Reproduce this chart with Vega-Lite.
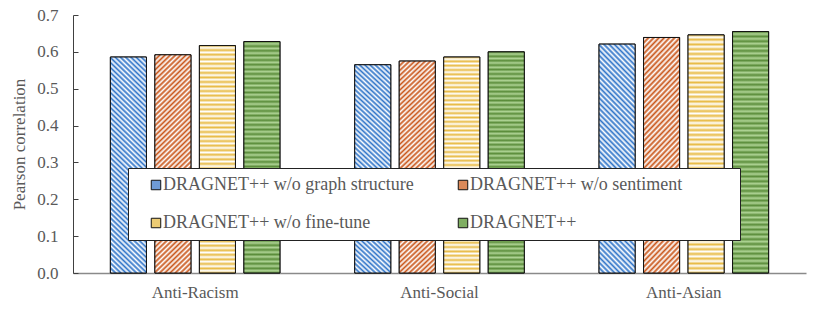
{
  "$schema": "https://vega.github.io/schema/vega-lite/v6.json",
  "width": 733,
  "height": 258,
  "autosize": {"type": "none"},
  "padding": {"left": 73, "top": 15, "right": 24, "bottom": 42},
  "background": "white",
  "config": {"view": {"stroke": null}, "font": "Liberation Serif"},
  "data": {
    "values": [
      {"dataset": "Anti-Racism", "model": "DRAGNET++ w/o graph structure", "value": 0.586},
      {"dataset": "Anti-Racism", "model": "DRAGNET++ w/o sentiment", "value": 0.592},
      {"dataset": "Anti-Racism", "model": "DRAGNET++ w/o fine-tune", "value": 0.617},
      {"dataset": "Anti-Racism", "model": "DRAGNET++", "value": 0.628},
      {"dataset": "Anti-Social", "model": "DRAGNET++ w/o graph structure", "value": 0.565},
      {"dataset": "Anti-Social", "model": "DRAGNET++ w/o sentiment", "value": 0.575},
      {"dataset": "Anti-Social", "model": "DRAGNET++ w/o fine-tune", "value": 0.586},
      {"dataset": "Anti-Social", "model": "DRAGNET++", "value": 0.600},
      {"dataset": "Anti-Asian", "model": "DRAGNET++ w/o graph structure", "value": 0.621},
      {"dataset": "Anti-Asian", "model": "DRAGNET++ w/o sentiment", "value": 0.639},
      {"dataset": "Anti-Asian", "model": "DRAGNET++ w/o fine-tune", "value": 0.646},
      {"dataset": "Anti-Asian", "model": "DRAGNET++", "value": 0.655}
    ]
  },
  "encoding": {
    "x": {
      "field": "dataset",
      "type": "nominal",
      "sort": ["Anti-Racism", "Anti-Social", "Anti-Asian"],
      "scale": {"paddingInner": 0, "paddingOuter": 0},
      "axis": {
        "title": null,
        "labelAngle": 0,
        "labelFont": "Liberation Serif",
        "labelFontSize": 17,
        "labelColor": "#595959",
        "ticks": false,
        "labelPadding": 11,
        "domainColor": "#8a8a8a",
        "domainWidth": 1.5
      }
    },
    "xOffset": {
      "field": "model",
      "type": "nominal",
      "scale": {
        "domain": ["DRAGNET++ w/o graph structure", "DRAGNET++ w/o sentiment", "DRAGNET++ w/o fine-tune", "DRAGNET++"],
        "paddingInner": 0.19,
        "paddingOuter": 0.84
      }
    },
    "y": {
      "field": "value",
      "type": "quantitative",
      "scale": {"domain": [0, 0.7], "nice": false},
      "axis": {
        "title": "Pearson correlation",
        "values": [0, 0.1, 0.2, 0.3, 0.4, 0.5, 0.6, 0.7],
        "format": ".1f",
        "grid": false,
        "labelFont": "Liberation Serif",
        "labelFontSize": 17,
        "labelColor": "#595959",
        "tickSize": -5,
        "tickColor": "#404040",
        "domainColor": "#404040",
        "labelPadding": 20,
        "titleFont": "Liberation Serif",
        "titleFontSize": 17,
        "titleFontWeight": "normal",
        "titleColor": "#595959",
        "titlePadding": 8
      }
    }
  },
  "layer": [
    {
      "mark": {"type": "bar", "stroke": "#111111", "strokeWidth": 1},
      "encoding": {
        "fill": {
          "field": "model",
          "type": "nominal",
          "scale": {
            "domain": ["DRAGNET++ w/o graph structure", "DRAGNET++ w/o sentiment", "DRAGNET++ w/o fine-tune", "DRAGNET++"],
            "range": ["#6f9bd6", "#dc8a5a", "#eccb73", "#7fae62"]
          },
          "legend": {
            "title": " ",
            "titleOrient": "right",
            "titleFontSize": 2,
            "titlePadding": 50,
            "orient": "none",
            "legendX": 55,
            "legendY": 153,
            "direction": "horizontal",
            "columns": 2,
            "gridAlign": "all",
            "fillColor": "#ffffff",
            "strokeColor": "#222222",
            "padding": 8,
            "symbolType": "square",
            "symbolSize": 90,
            "symbolStrokeColor": "#111111",
            "symbolStrokeWidth": 1,
            "symbolOpacity": 1,
            "symbolOffset": 11,
            "labelOffset": -2,
            "labelFont": "Liberation Serif",
            "labelFontSize": 18,
            "labelColor": "#595959",
            "labelLimit": 400,
            "rowPadding": 20,
            "columnPadding": 29
          }
        }
      }
    },
    {
      "transform": [{"filter": "datum.model == 'DRAGNET++ w/o graph structure'"}],
      "mark": {"type": "bar", "stroke": "#111111", "strokeWidth": 1, "fill": {"gradient": "linear", "x1": 0, "y1": 1, "x2": 0.181, "y2": -0.131, "stops": [
            {"offset":0,"color":"#2f74c8"},{"offset":0.01,"color":"#ffffff"},{"offset":0.02,"color":"#2f74c8"},{"offset":0.03,"color":"#ffffff"},{"offset":0.04,"color":"#2f74c8"},{"offset":0.05,"color":"#ffffff"},{"offset":0.06,"color":"#2f74c8"},{"offset":0.07,"color":"#ffffff"},{"offset":0.08,"color":"#2f74c8"},{"offset":0.09,"color":"#ffffff"},
            {"offset":0.1,"color":"#2f74c8"},{"offset":0.11,"color":"#ffffff"},{"offset":0.12,"color":"#2f74c8"},{"offset":0.13,"color":"#ffffff"},{"offset":0.14,"color":"#2f74c8"},{"offset":0.15,"color":"#ffffff"},{"offset":0.16,"color":"#2f74c8"},{"offset":0.17,"color":"#ffffff"},{"offset":0.18,"color":"#2f74c8"},{"offset":0.19,"color":"#ffffff"},
            {"offset":0.2,"color":"#2f74c8"},{"offset":0.21,"color":"#ffffff"},{"offset":0.22,"color":"#2f74c8"},{"offset":0.23,"color":"#ffffff"},{"offset":0.24,"color":"#2f74c8"},{"offset":0.25,"color":"#ffffff"},{"offset":0.26,"color":"#2f74c8"},{"offset":0.27,"color":"#ffffff"},{"offset":0.28,"color":"#2f74c8"},{"offset":0.29,"color":"#ffffff"},
            {"offset":0.3,"color":"#2f74c8"},{"offset":0.31,"color":"#ffffff"},{"offset":0.32,"color":"#2f74c8"},{"offset":0.33,"color":"#ffffff"},{"offset":0.34,"color":"#2f74c8"},{"offset":0.35,"color":"#ffffff"},{"offset":0.36,"color":"#2f74c8"},{"offset":0.37,"color":"#ffffff"},{"offset":0.38,"color":"#2f74c8"},{"offset":0.39,"color":"#ffffff"},
            {"offset":0.4,"color":"#2f74c8"},{"offset":0.41,"color":"#ffffff"},{"offset":0.42,"color":"#2f74c8"},{"offset":0.43,"color":"#ffffff"},{"offset":0.44,"color":"#2f74c8"},{"offset":0.45,"color":"#ffffff"},{"offset":0.46,"color":"#2f74c8"},{"offset":0.47,"color":"#ffffff"},{"offset":0.48,"color":"#2f74c8"},{"offset":0.49,"color":"#ffffff"},
            {"offset":0.5,"color":"#2f74c8"},{"offset":0.51,"color":"#ffffff"},{"offset":0.52,"color":"#2f74c8"},{"offset":0.53,"color":"#ffffff"},{"offset":0.54,"color":"#2f74c8"},{"offset":0.55,"color":"#ffffff"},{"offset":0.56,"color":"#2f74c8"},{"offset":0.57,"color":"#ffffff"},{"offset":0.58,"color":"#2f74c8"},{"offset":0.59,"color":"#ffffff"},
            {"offset":0.6,"color":"#2f74c8"},{"offset":0.61,"color":"#ffffff"},{"offset":0.62,"color":"#2f74c8"},{"offset":0.63,"color":"#ffffff"},{"offset":0.64,"color":"#2f74c8"},{"offset":0.65,"color":"#ffffff"},{"offset":0.66,"color":"#2f74c8"},{"offset":0.67,"color":"#ffffff"},{"offset":0.68,"color":"#2f74c8"},{"offset":0.69,"color":"#ffffff"},
            {"offset":0.7,"color":"#2f74c8"},{"offset":0.71,"color":"#ffffff"},{"offset":0.72,"color":"#2f74c8"},{"offset":0.73,"color":"#ffffff"},{"offset":0.74,"color":"#2f74c8"},{"offset":0.75,"color":"#ffffff"},{"offset":0.76,"color":"#2f74c8"},{"offset":0.77,"color":"#ffffff"},{"offset":0.78,"color":"#2f74c8"},{"offset":0.79,"color":"#ffffff"},
            {"offset":0.8,"color":"#2f74c8"},{"offset":0.81,"color":"#ffffff"},{"offset":0.82,"color":"#2f74c8"},{"offset":0.83,"color":"#ffffff"},{"offset":0.84,"color":"#2f74c8"},{"offset":0.85,"color":"#ffffff"},{"offset":0.86,"color":"#2f74c8"},{"offset":0.87,"color":"#ffffff"},{"offset":0.88,"color":"#2f74c8"},{"offset":0.89,"color":"#ffffff"},
            {"offset":0.9,"color":"#2f74c8"},{"offset":0.91,"color":"#ffffff"},{"offset":0.92,"color":"#2f74c8"},{"offset":0.93,"color":"#ffffff"},{"offset":0.94,"color":"#2f74c8"},{"offset":0.95,"color":"#ffffff"},{"offset":0.96,"color":"#2f74c8"},{"offset":0.97,"color":"#ffffff"},{"offset":0.98,"color":"#2f74c8"},{"offset":0.99,"color":"#ffffff"},{"offset":1,"color":"#2f74c8"}
          ]}}
    },
    {
      "transform": [{"filter": "datum.model == 'DRAGNET++ w/o sentiment'"}],
      "mark": {"type": "bar", "stroke": "#111111", "strokeWidth": 1, "fill": {"gradient": "linear", "x1": 0, "y1": 0, "x2": 0.181, "y2": 1.131, "stops": [
            {"offset":0,"color":"#c9561a"},{"offset":0.01,"color":"#ffffff"},{"offset":0.02,"color":"#c9561a"},{"offset":0.03,"color":"#ffffff"},{"offset":0.04,"color":"#c9561a"},{"offset":0.05,"color":"#ffffff"},{"offset":0.06,"color":"#c9561a"},{"offset":0.07,"color":"#ffffff"},{"offset":0.08,"color":"#c9561a"},{"offset":0.09,"color":"#ffffff"},
            {"offset":0.1,"color":"#c9561a"},{"offset":0.11,"color":"#ffffff"},{"offset":0.12,"color":"#c9561a"},{"offset":0.13,"color":"#ffffff"},{"offset":0.14,"color":"#c9561a"},{"offset":0.15,"color":"#ffffff"},{"offset":0.16,"color":"#c9561a"},{"offset":0.17,"color":"#ffffff"},{"offset":0.18,"color":"#c9561a"},{"offset":0.19,"color":"#ffffff"},
            {"offset":0.2,"color":"#c9561a"},{"offset":0.21,"color":"#ffffff"},{"offset":0.22,"color":"#c9561a"},{"offset":0.23,"color":"#ffffff"},{"offset":0.24,"color":"#c9561a"},{"offset":0.25,"color":"#ffffff"},{"offset":0.26,"color":"#c9561a"},{"offset":0.27,"color":"#ffffff"},{"offset":0.28,"color":"#c9561a"},{"offset":0.29,"color":"#ffffff"},
            {"offset":0.3,"color":"#c9561a"},{"offset":0.31,"color":"#ffffff"},{"offset":0.32,"color":"#c9561a"},{"offset":0.33,"color":"#ffffff"},{"offset":0.34,"color":"#c9561a"},{"offset":0.35,"color":"#ffffff"},{"offset":0.36,"color":"#c9561a"},{"offset":0.37,"color":"#ffffff"},{"offset":0.38,"color":"#c9561a"},{"offset":0.39,"color":"#ffffff"},
            {"offset":0.4,"color":"#c9561a"},{"offset":0.41,"color":"#ffffff"},{"offset":0.42,"color":"#c9561a"},{"offset":0.43,"color":"#ffffff"},{"offset":0.44,"color":"#c9561a"},{"offset":0.45,"color":"#ffffff"},{"offset":0.46,"color":"#c9561a"},{"offset":0.47,"color":"#ffffff"},{"offset":0.48,"color":"#c9561a"},{"offset":0.49,"color":"#ffffff"},
            {"offset":0.5,"color":"#c9561a"},{"offset":0.51,"color":"#ffffff"},{"offset":0.52,"color":"#c9561a"},{"offset":0.53,"color":"#ffffff"},{"offset":0.54,"color":"#c9561a"},{"offset":0.55,"color":"#ffffff"},{"offset":0.56,"color":"#c9561a"},{"offset":0.57,"color":"#ffffff"},{"offset":0.58,"color":"#c9561a"},{"offset":0.59,"color":"#ffffff"},
            {"offset":0.6,"color":"#c9561a"},{"offset":0.61,"color":"#ffffff"},{"offset":0.62,"color":"#c9561a"},{"offset":0.63,"color":"#ffffff"},{"offset":0.64,"color":"#c9561a"},{"offset":0.65,"color":"#ffffff"},{"offset":0.66,"color":"#c9561a"},{"offset":0.67,"color":"#ffffff"},{"offset":0.68,"color":"#c9561a"},{"offset":0.69,"color":"#ffffff"},
            {"offset":0.7,"color":"#c9561a"},{"offset":0.71,"color":"#ffffff"},{"offset":0.72,"color":"#c9561a"},{"offset":0.73,"color":"#ffffff"},{"offset":0.74,"color":"#c9561a"},{"offset":0.75,"color":"#ffffff"},{"offset":0.76,"color":"#c9561a"},{"offset":0.77,"color":"#ffffff"},{"offset":0.78,"color":"#c9561a"},{"offset":0.79,"color":"#ffffff"},
            {"offset":0.8,"color":"#c9561a"},{"offset":0.81,"color":"#ffffff"},{"offset":0.82,"color":"#c9561a"},{"offset":0.83,"color":"#ffffff"},{"offset":0.84,"color":"#c9561a"},{"offset":0.85,"color":"#ffffff"},{"offset":0.86,"color":"#c9561a"},{"offset":0.87,"color":"#ffffff"},{"offset":0.88,"color":"#c9561a"},{"offset":0.89,"color":"#ffffff"},
            {"offset":0.9,"color":"#c9561a"},{"offset":0.91,"color":"#ffffff"},{"offset":0.92,"color":"#c9561a"},{"offset":0.93,"color":"#ffffff"},{"offset":0.94,"color":"#c9561a"},{"offset":0.95,"color":"#ffffff"},{"offset":0.96,"color":"#c9561a"},{"offset":0.97,"color":"#ffffff"},{"offset":0.98,"color":"#c9561a"},{"offset":0.99,"color":"#ffffff"},{"offset":1,"color":"#c9561a"}
          ]}}
    },
    {
      "transform": [{"filter": "datum.model == 'DRAGNET++ w/o fine-tune'"}],
      "mark": {"type": "bar", "stroke": "#111111", "strokeWidth": 1, "fill": {"gradient": "linear", "x1": 0, "y1": 0, "x2": 0, "y2": 1, "stops": [
            {"offset":0,"color":"#e8bb45"},{"offset":0.01,"color":"#ffffff"},{"offset":0.02,"color":"#e8bb45"},{"offset":0.03,"color":"#ffffff"},{"offset":0.04,"color":"#e8bb45"},{"offset":0.05,"color":"#ffffff"},{"offset":0.06,"color":"#e8bb45"},{"offset":0.07,"color":"#ffffff"},{"offset":0.08,"color":"#e8bb45"},{"offset":0.09,"color":"#ffffff"},
            {"offset":0.1,"color":"#e8bb45"},{"offset":0.11,"color":"#ffffff"},{"offset":0.12,"color":"#e8bb45"},{"offset":0.13,"color":"#ffffff"},{"offset":0.14,"color":"#e8bb45"},{"offset":0.15,"color":"#ffffff"},{"offset":0.16,"color":"#e8bb45"},{"offset":0.17,"color":"#ffffff"},{"offset":0.18,"color":"#e8bb45"},{"offset":0.19,"color":"#ffffff"},
            {"offset":0.2,"color":"#e8bb45"},{"offset":0.21,"color":"#ffffff"},{"offset":0.22,"color":"#e8bb45"},{"offset":0.23,"color":"#ffffff"},{"offset":0.24,"color":"#e8bb45"},{"offset":0.25,"color":"#ffffff"},{"offset":0.26,"color":"#e8bb45"},{"offset":0.27,"color":"#ffffff"},{"offset":0.28,"color":"#e8bb45"},{"offset":0.29,"color":"#ffffff"},
            {"offset":0.3,"color":"#e8bb45"},{"offset":0.31,"color":"#ffffff"},{"offset":0.32,"color":"#e8bb45"},{"offset":0.33,"color":"#ffffff"},{"offset":0.34,"color":"#e8bb45"},{"offset":0.35,"color":"#ffffff"},{"offset":0.36,"color":"#e8bb45"},{"offset":0.37,"color":"#ffffff"},{"offset":0.38,"color":"#e8bb45"},{"offset":0.39,"color":"#ffffff"},
            {"offset":0.4,"color":"#e8bb45"},{"offset":0.41,"color":"#ffffff"},{"offset":0.42,"color":"#e8bb45"},{"offset":0.43,"color":"#ffffff"},{"offset":0.44,"color":"#e8bb45"},{"offset":0.45,"color":"#ffffff"},{"offset":0.46,"color":"#e8bb45"},{"offset":0.47,"color":"#ffffff"},{"offset":0.48,"color":"#e8bb45"},{"offset":0.49,"color":"#ffffff"},
            {"offset":0.5,"color":"#e8bb45"},{"offset":0.51,"color":"#ffffff"},{"offset":0.52,"color":"#e8bb45"},{"offset":0.53,"color":"#ffffff"},{"offset":0.54,"color":"#e8bb45"},{"offset":0.55,"color":"#ffffff"},{"offset":0.56,"color":"#e8bb45"},{"offset":0.57,"color":"#ffffff"},{"offset":0.58,"color":"#e8bb45"},{"offset":0.59,"color":"#ffffff"},
            {"offset":0.6,"color":"#e8bb45"},{"offset":0.61,"color":"#ffffff"},{"offset":0.62,"color":"#e8bb45"},{"offset":0.63,"color":"#ffffff"},{"offset":0.64,"color":"#e8bb45"},{"offset":0.65,"color":"#ffffff"},{"offset":0.66,"color":"#e8bb45"},{"offset":0.67,"color":"#ffffff"},{"offset":0.68,"color":"#e8bb45"},{"offset":0.69,"color":"#ffffff"},
            {"offset":0.7,"color":"#e8bb45"},{"offset":0.71,"color":"#ffffff"},{"offset":0.72,"color":"#e8bb45"},{"offset":0.73,"color":"#ffffff"},{"offset":0.74,"color":"#e8bb45"},{"offset":0.75,"color":"#ffffff"},{"offset":0.76,"color":"#e8bb45"},{"offset":0.77,"color":"#ffffff"},{"offset":0.78,"color":"#e8bb45"},{"offset":0.79,"color":"#ffffff"},
            {"offset":0.8,"color":"#e8bb45"},{"offset":0.81,"color":"#ffffff"},{"offset":0.82,"color":"#e8bb45"},{"offset":0.83,"color":"#ffffff"},{"offset":0.84,"color":"#e8bb45"},{"offset":0.85,"color":"#ffffff"},{"offset":0.86,"color":"#e8bb45"},{"offset":0.87,"color":"#ffffff"},{"offset":0.88,"color":"#e8bb45"},{"offset":0.89,"color":"#ffffff"},
            {"offset":0.9,"color":"#e8bb45"},{"offset":0.91,"color":"#ffffff"},{"offset":0.92,"color":"#e8bb45"},{"offset":0.93,"color":"#ffffff"},{"offset":0.94,"color":"#e8bb45"},{"offset":0.95,"color":"#ffffff"},{"offset":0.96,"color":"#e8bb45"},{"offset":0.97,"color":"#ffffff"},{"offset":0.98,"color":"#e8bb45"},{"offset":0.99,"color":"#ffffff"},{"offset":1,"color":"#e8bb45"}
          ]}}
    },
    {
      "transform": [{"filter": "datum.model == 'DRAGNET++'"}],
      "mark": {"type": "bar", "stroke": "#111111", "strokeWidth": 1, "fill": {"gradient": "linear", "x1": 0, "y1": 0, "x2": 0, "y2": 1, "stops": [
            {"offset":0,"color":"#5b8d3b"},{"offset":0.01,"color":"#aed394"},{"offset":0.02,"color":"#5b8d3b"},{"offset":0.03,"color":"#aed394"},{"offset":0.04,"color":"#5b8d3b"},{"offset":0.05,"color":"#aed394"},{"offset":0.06,"color":"#5b8d3b"},{"offset":0.07,"color":"#aed394"},{"offset":0.08,"color":"#5b8d3b"},{"offset":0.09,"color":"#aed394"},
            {"offset":0.1,"color":"#5b8d3b"},{"offset":0.11,"color":"#aed394"},{"offset":0.12,"color":"#5b8d3b"},{"offset":0.13,"color":"#aed394"},{"offset":0.14,"color":"#5b8d3b"},{"offset":0.15,"color":"#aed394"},{"offset":0.16,"color":"#5b8d3b"},{"offset":0.17,"color":"#aed394"},{"offset":0.18,"color":"#5b8d3b"},{"offset":0.19,"color":"#aed394"},
            {"offset":0.2,"color":"#5b8d3b"},{"offset":0.21,"color":"#aed394"},{"offset":0.22,"color":"#5b8d3b"},{"offset":0.23,"color":"#aed394"},{"offset":0.24,"color":"#5b8d3b"},{"offset":0.25,"color":"#aed394"},{"offset":0.26,"color":"#5b8d3b"},{"offset":0.27,"color":"#aed394"},{"offset":0.28,"color":"#5b8d3b"},{"offset":0.29,"color":"#aed394"},
            {"offset":0.3,"color":"#5b8d3b"},{"offset":0.31,"color":"#aed394"},{"offset":0.32,"color":"#5b8d3b"},{"offset":0.33,"color":"#aed394"},{"offset":0.34,"color":"#5b8d3b"},{"offset":0.35,"color":"#aed394"},{"offset":0.36,"color":"#5b8d3b"},{"offset":0.37,"color":"#aed394"},{"offset":0.38,"color":"#5b8d3b"},{"offset":0.39,"color":"#aed394"},
            {"offset":0.4,"color":"#5b8d3b"},{"offset":0.41,"color":"#aed394"},{"offset":0.42,"color":"#5b8d3b"},{"offset":0.43,"color":"#aed394"},{"offset":0.44,"color":"#5b8d3b"},{"offset":0.45,"color":"#aed394"},{"offset":0.46,"color":"#5b8d3b"},{"offset":0.47,"color":"#aed394"},{"offset":0.48,"color":"#5b8d3b"},{"offset":0.49,"color":"#aed394"},
            {"offset":0.5,"color":"#5b8d3b"},{"offset":0.51,"color":"#aed394"},{"offset":0.52,"color":"#5b8d3b"},{"offset":0.53,"color":"#aed394"},{"offset":0.54,"color":"#5b8d3b"},{"offset":0.55,"color":"#aed394"},{"offset":0.56,"color":"#5b8d3b"},{"offset":0.57,"color":"#aed394"},{"offset":0.58,"color":"#5b8d3b"},{"offset":0.59,"color":"#aed394"},
            {"offset":0.6,"color":"#5b8d3b"},{"offset":0.61,"color":"#aed394"},{"offset":0.62,"color":"#5b8d3b"},{"offset":0.63,"color":"#aed394"},{"offset":0.64,"color":"#5b8d3b"},{"offset":0.65,"color":"#aed394"},{"offset":0.66,"color":"#5b8d3b"},{"offset":0.67,"color":"#aed394"},{"offset":0.68,"color":"#5b8d3b"},{"offset":0.69,"color":"#aed394"},
            {"offset":0.7,"color":"#5b8d3b"},{"offset":0.71,"color":"#aed394"},{"offset":0.72,"color":"#5b8d3b"},{"offset":0.73,"color":"#aed394"},{"offset":0.74,"color":"#5b8d3b"},{"offset":0.75,"color":"#aed394"},{"offset":0.76,"color":"#5b8d3b"},{"offset":0.77,"color":"#aed394"},{"offset":0.78,"color":"#5b8d3b"},{"offset":0.79,"color":"#aed394"},
            {"offset":0.8,"color":"#5b8d3b"},{"offset":0.81,"color":"#aed394"},{"offset":0.82,"color":"#5b8d3b"},{"offset":0.83,"color":"#aed394"},{"offset":0.84,"color":"#5b8d3b"},{"offset":0.85,"color":"#aed394"},{"offset":0.86,"color":"#5b8d3b"},{"offset":0.87,"color":"#aed394"},{"offset":0.88,"color":"#5b8d3b"},{"offset":0.89,"color":"#aed394"},
            {"offset":0.9,"color":"#5b8d3b"},{"offset":0.91,"color":"#aed394"},{"offset":0.92,"color":"#5b8d3b"},{"offset":0.93,"color":"#aed394"},{"offset":0.94,"color":"#5b8d3b"},{"offset":0.95,"color":"#aed394"},{"offset":0.96,"color":"#5b8d3b"},{"offset":0.97,"color":"#aed394"},{"offset":0.98,"color":"#5b8d3b"},{"offset":0.99,"color":"#aed394"},{"offset":1,"color":"#5b8d3b"}
          ]}}
    }
  ]
}
